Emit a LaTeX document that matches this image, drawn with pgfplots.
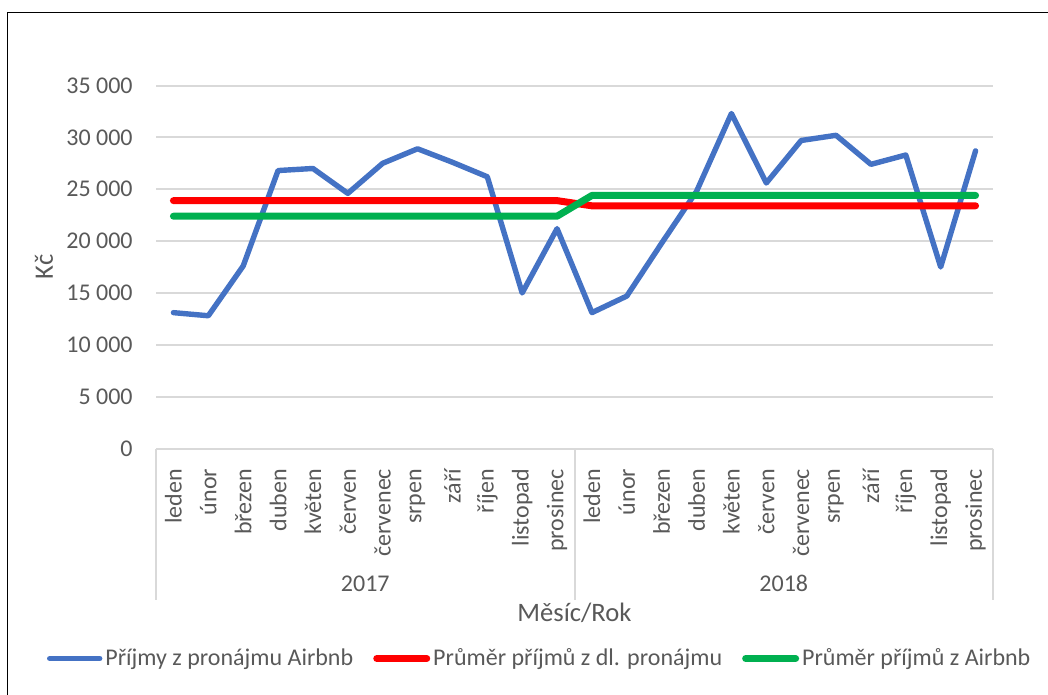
\documentclass[border=0pt]{standalone}
\usepackage{fontspec}
\setmainfont{Carlito}
\usepackage{pgfplots}
\pgfplotsset{compat=1.18}

\definecolor{airblue}{HTML}{4472C4}
\definecolor{avgred}{HTML}{FF0000}
\definecolor{avggreen}{HTML}{00B050}
\definecolor{gridgray}{HTML}{D9D9D9}
\definecolor{labelgray}{HTML}{595959}

\newcommand\tickfont{\fontsize{12bp}{14.4bp}\selectfont}
\newcommand\titlefont{\fontsize{13.3bp}{16bp}\selectfont}

\begin{document}
\begin{tikzpicture}
\useasboundingbox (0,0) rectangle (524bp,-347.5bp);
% chart-area frame (left and top edges)
\draw[black, line width=0.75bp] (3.75bp,-400bp) -- (3.75bp,-6.25bp) -- (600bp,-6.25bp);
\begin{axis}[
  scale only axis, width=418.5bp, height=181.5bp,
  at={(78bp,-224.25bp)}, anchor=south west,
  xmin=-0.5, xmax=23.5, ymin=0, ymax=35000,
  clip=false,
  axis lines=left, axis line style={-},
  x axis line style={draw=gridgray, line width=1bp},
  y axis line style={draw=none},
  major tick length=0pt,
  scaled y ticks=false,
  ytick={0,5000,10000,15000,20000,25000,30000,35000},
  yticklabels={0,5~000,10~000,15~000,20~000,25~000,30~000,35~000},
  ymajorgrids, grid style={gridgray, line width=1bp},
  xtick={0,...,23},
  xticklabels={leden,únor,březen,duben,květen,červen,červenec,srpen,září,říjen,listopad,prosinec,
               leden,únor,březen,duben,květen,červen,červenec,srpen,září,říjen,listopad,prosinec},
  ticklabel style={font=\tickfont, text=labelgray},
  xticklabel style={rotate=90, anchor=east, inner sep=0pt},
  yticklabel style={anchor=east, inner sep=0pt},
  xticklabel shift=10bp, yticklabel shift=11.5bp,
  legend columns=3,
  legend cell align=left,
  legend style={draw=none, fill=none, inner sep=0pt, outer sep=0pt,
    at={(-0.1302,-0.5785)}, anchor=west,
    font=\tickfont, text=labelgray,
    nodes={inner xsep=1.5bp, inner ysep=0pt},
    /tikz/every even column/.append style={column sep=8.5bp}},
  legend image code/.code={\draw[#1, line cap=round] (1.5bp,0bp) -- (26.5bp,0bp);},
]
\addplot[airblue, line width=2.7bp, line cap=round, line join=round] coordinates {
  (0,13100) (1,12800) (2,17600) (3,26800) (4,27000) (5,24600)
  (6,27500) (7,28900) (8,27600) (9,26200) (10,15000) (11,21200)
  (12,13100) (13,14700) (14,19800) (15,24800) (16,32300) (17,25600)
  (18,29700) (19,30200) (20,27400) (21,28300) (22,17500) (23,28700)};
\addlegendentry{Příjmy z pronájmu Airbnb}
\addplot[avgred, line width=3.5bp, line cap=round, line join=round] coordinates {
  (0,23900) (1,23900) (2,23900) (3,23900) (4,23900) (5,23900)
  (6,23900) (7,23900) (8,23900) (9,23900) (10,23900) (11,23900)
  (12,23400) (13,23400) (14,23400) (15,23400) (16,23400) (17,23400)
  (18,23400) (19,23400) (20,23400) (21,23400) (22,23400) (23,23400)};
\addlegendentry{Průměr příjmů z dl. pronájmu}
\addplot[avggreen, line width=3.5bp, line cap=round, line join=round] coordinates {
  (0,22400) (1,22400) (2,22400) (3,22400) (4,22400) (5,22400)
  (6,22400) (7,22400) (8,22400) (9,22400) (10,22400) (11,22400)
  (12,24400) (13,24400) (14,24400) (15,24400) (16,24400) (17,24400)
  (18,24400) (19,24400) (20,24400) (21,24400) (22,24400) (23,24400)};
\addlegendentry{Průměr příjmů z Airbnb}

% year-group separators and year labels
\draw[gridgray, line width=1bp] (axis cs:-0.5,0) -- ++(0pt,-75.75bp);
\draw[gridgray, line width=1bp] (axis cs:11.5,0) -- ++(0pt,-75.75bp);
\draw[gridgray, line width=1bp] (axis cs:23.5,0) -- ++(0pt,-75.75bp);
\path (axis cs:5.5,0) ++(0pt,-71.6bp) node[anchor=base, font=\tickfont, text=labelgray, inner sep=0pt] {2017};
\path (axis cs:17.5,0) ++(0pt,-71.6bp) node[anchor=base, font=\tickfont, text=labelgray, inner sep=0pt] {2018};
% axis titles
\path (axis cs:11.5,0) ++(0pt,-86.6bp) node[anchor=base, font=\titlefont, text=labelgray, inner sep=0pt] {Měsíc/Rok};
\path (rel axis cs:0,0.5) ++(-56bp,0pt) node[rotate=90, font=\titlefont, text=labelgray, inner sep=0pt] {Kč};
\end{axis}
\end{tikzpicture}
\end{document}
